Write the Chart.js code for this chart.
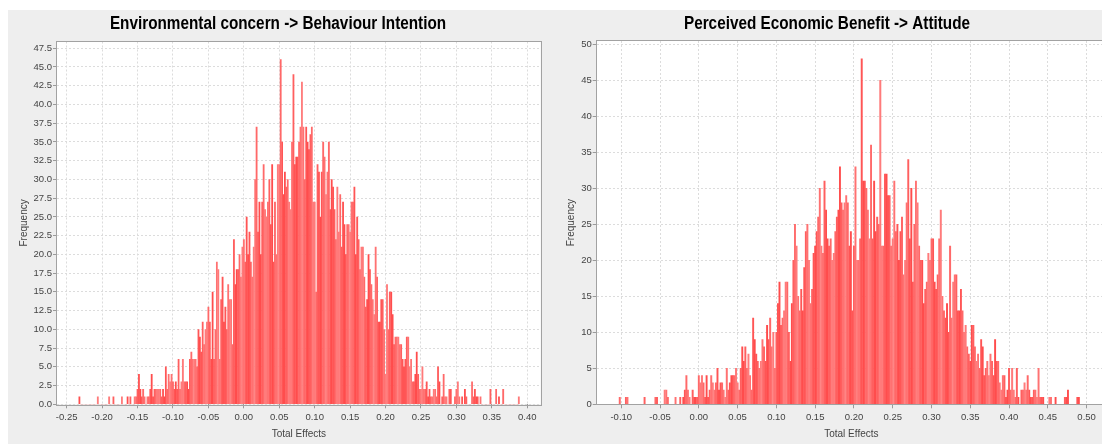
<!DOCTYPE html>
<html lang="en">
<head>
<meta charset="UTF-8">
<title>Total Effects - Bootstrap Histograms</title>
<script src="https://cdn.jsdelivr.net/npm/chart.js"></script>
<style>
  html, body { margin: 0; padding: 0; background: #fff; overflow: hidden; }
  #frame { position: absolute; left: 8px; top: 10px; width: 1120px; height: 434px; background: #eeeeee; }
  .panel { position: absolute; top: 10px; height: 433px; }
  #leftPanel { left: 8px; width: 540px; }
  #rightPanel { left: 551px; width: 557px; }
</style>
</head>
<body>
<div id="frame"></div>
<div class="panel" id="leftPanel"><canvas id="envChart"></canvas></div>
<div class="panel" id="rightPanel"><canvas id="pebChart"></canvas></div>

<script>
// histogram bins: every bin is 0.002 wide, first bin centre given per chart
const binWidth = 0.002;
const envBinStart = -0.232;
const pebBinStart = -0.102;

// Environmental concern -> Behaviour Intention, frequency per bin
const envFreq = [
  1,0,0,0,0,0,0,0,0,0,
  0,0,0,1,0,0,0,0,0,0,
  0,1,0,0,1,0,0,0,0,0,
  1,0,0,0,1,0,1,0,0,1,
  1,2,4,2,1,2,1,0,1,1,
  2,4,1,2,2,2,2,2,1,2,
  1,5,2,4,3,4,3,2,3,2,
  6,2,3,6,3,3,3,2,6,7,
  6,6,6,5,10,9,7,11,8,10,
  11,13,11,6,15,6,10,19,18,6,
  14,17,11,13,10,16,14,14,8,22,
  16,18,18,20,17,21,22,19,25,20,
  23,19,17,21,30,37,23,27,20,27,
  32,26,25,27,30,24,32,19,27,20,
  32,32,46,35,28,31,29,30,27,26,
  35,44,32,33,33,35,37,43,37,30,
  37,35,34,36,37,27,27,15,32,31,
  25,31,35,33,28,31,35,26,30,29,
  26,22,29,23,28,21,27,24,20,24,
  24,23,27,27,29,20,25,22,18,21,
  21,17,13,14,20,18,16,14,12,21,
  17,11,11,14,14,10,4,16,10,15,
  15,12,8,9,9,9,8,8,6,5,
  6,9,9,5,6,3,3,4,7,4,
  2,2,5,2,2,3,1,2,1,1,
  2,2,1,5,3,0,1,4,1,1,
  0,2,2,0,0,1,2,3,1,0,
  1,0,2,1,0,0,0,3,1,2,
  1,1,0,1,0,0,0,0,0,0,
  2,0,0,0,2,0,1,0,0,2,
  0,0,0,0,0,0,0,0,0,0,1
];

// Perceived Economic Benefit -> Attitude, frequency per bin
const pebFreq = [
  1,0,0,0,1,1,0,0,0,0,
  0,0,0,0,0,0,1,0,0,0,
  0,0,0,1,1,0,0,0,0,2,
  2,1,0,0,0,0,1,0,0,1,
  0,1,2,4,2,1,0,2,1,1,
  1,4,3,4,3,1,4,1,2,4,
  3,2,3,5,2,3,3,2,1,5,
  2,3,4,4,4,5,3,2,5,8,
  6,8,5,7,4,2,12,9,7,6,
  5,6,9,8,6,11,9,12,8,10,
  5,10,14,17,11,12,13,17,17,10,
  6,14,20,25,22,15,13,16,13,19,
  24,25,20,14,16,21,22,24,26,30,
  22,21,31,27,23,22,23,20,21,24,
  26,27,33,28,27,28,29,28,22,24,
  13,22,33,20,20,23,48,31,31,30,
  27,23,36,23,31,24,26,25,45,22,
  22,32,32,29,29,22,23,31,24,25,
  20,24,26,18,20,28,34,23,30,17,
  25,31,28,22,20,20,14,16,17,21,
  20,23,23,17,16,18,23,27,15,13,
  12,14,10,22,12,17,18,18,13,13,
  16,13,10,11,8,7,6,11,11,8,
  6,7,5,9,8,4,5,6,4,7,
  6,4,9,6,6,3,2,4,4,1,
  2,5,2,5,2,1,5,1,0,2,
  2,3,2,4,2,1,1,2,2,1,
  5,1,1,1,0,0,0,1,1,0,
  0,1,0,0,0,0,0,1,1,2,
  0,0,0,0,0,1,1
];

// axis ticks
const envXTicks = [-0.25, -0.20, -0.15, -0.10, -0.05, 0.00, 0.05, 0.10, 0.15, 0.20, 0.25, 0.30, 0.35, 0.40];
const envYTicks = [0, 2.5, 5, 7.5, 10, 12.5, 15, 17.5, 20, 22.5, 25, 27.5, 30, 32.5, 35, 37.5, 40, 42.5, 45, 47.5];
const pebXTicks = [-0.10, -0.05, 0.00, 0.05, 0.10, 0.15, 0.20, 0.25, 0.30, 0.35, 0.40, 0.45, 0.50];
const pebYTicks = [0, 5, 10, 15, 20, 25, 30, 35, 40, 45, 50];

const tickFont = { family: "'Liberation Sans', Arial, sans-serif", size: 9.5 };
const axisFont = { family: "'Liberation Sans', Arial, sans-serif", size: 10 };

// striped red fill, like the gradient painted bars
function stripeFill() {
  const c = document.createElement('canvas');
  c.width = 12; c.height = 1;
  const g = c.getContext('2d');
  const grad = g.createLinearGradient(0, 0, 12, 0);
  grad.addColorStop(0, '#ff4848');
  grad.addColorStop(0.5, '#ff7f7f');
  grad.addColorStop(1, '#ff4848');
  g.fillStyle = grad;
  g.fillRect(0, 0, 12, 1);
  return g.createPattern(c, 'repeat');
}

// white plot background and grey outline round the plot
const plotFrame = {
  id: 'plotFrame',
  beforeDraw(chart) {
    const { ctx, chartArea: a } = chart;
    ctx.save();
    ctx.fillStyle = '#ffffff';
    ctx.fillRect(a.left, a.top, a.width, a.height);
    ctx.restore();
  },
  afterDatasetsDraw(chart) {
    const { ctx, chartArea: a } = chart;
    ctx.save();
    ctx.strokeStyle = '#a2a2a2';
    ctx.lineWidth = 1;
    ctx.strokeRect(Math.round(a.left) - 0.5, Math.round(a.top) - 0.5,
                   Math.round(a.width) + 1, Math.round(a.height) + 1);
    ctx.restore();
  }
};

// bold condensed heading above the plot
const panelTitle = {
  id: 'panelTitle',
  afterDraw(chart, args, opts) {
    const ctx = chart.ctx;
    ctx.save();
    ctx.font = "bold 18px 'Liberation Sans', Arial, sans-serif";
    ctx.fillStyle = '#000';
    ctx.textAlign = 'center';
    ctx.textBaseline = 'middle';
    ctx.translate(opts.cx, 13.7);
    ctx.scale(0.85, 1);
    ctx.fillText(opts.text, 0, 0);
    ctx.restore();
  }
};

function histogram(canvasId, cfg) {
  const points = cfg.freq.map((f, i) => ({ x: cfg.binStart + i * binWidth, y: f }));
  const grid = { offset: false, color: '#dcdcdc', tickColor: '#9a9a9a', tickLength: 4 };
  const border = { display: false, dash: [2, 2] };
  return new Chart(document.getElementById(canvasId), {
    type: 'bar',
    data: {
      datasets: [{
        data: points,
        backgroundColor: stripeFill(),
        borderWidth: 0,
        inflateAmount: 0.2,
        barPercentage: 1,
        categoryPercentage: 1
      }]
    },
    options: {
      responsive: true,
      maintainAspectRatio: false,
      animation: false,
      layout: { padding: { left: 0, right: cfg.padRight, top: cfg.padTop, bottom: 0 } },
      plugins: {
        legend: { display: false },
        tooltip: { enabled: false },
        title: { display: false },
        panelTitle: { text: cfg.title, cx: cfg.titleX }
      },
      scales: {
        x: {
          type: 'linear', offset: false, min: cfg.xMin, max: cfg.xMax,
          afterBuildTicks: s => { s.ticks = cfg.xTicks.map(v => ({ value: v })); },
          afterFit: s => { s.height = 38.7; },
          ticks: { autoSkip: false, maxRotation: 0, padding: 3, color: '#444', font: tickFont,
                   callback: v => v.toFixed(2) },
          grid: grid,
          border: border,
          title: { display: true, text: 'Total Effects', color: '#444', font: axisFont,
                   padding: { top: 0, bottom: 2.8 } }
        },
        y: {
          min: 0, max: cfg.yMax,
          afterBuildTicks: s => { s.ticks = cfg.yTicks.map(v => ({ value: v })); },
          afterFit: s => { s.width = cfg.yAxisWidth; },
          ticks: { padding: 1, color: '#444', font: tickFont, callback: cfg.yLabel },
          grid: grid,
          border: border,
          title: { display: true, text: 'Frequency', color: '#444', font: axisFont,
                   padding: { top: cfg.yTitlePad, bottom: 0 } }
        }
      }
    },
    plugins: [plotFrame, panelTitle]
  });
}

histogram('envChart', {
  title: 'Environmental concern -> Behaviour Intention', titleX: 270,
  freq: envFreq, binStart: envBinStart,
  xTicks: envXTicks, yTicks: envYTicks,
  xMin: -0.2636, xMax: 0.4189, yMax: 48.4,
  yLabel: v => v.toFixed(1),
  yAxisWidth: 49, yTitlePad: 10.2, padRight: 7.3, padTop: 31.5
});

histogram('pebChart', {
  title: 'Perceived Economic Benefit -> Attitude', titleX: 276,
  freq: pebFreq, binStart: pebBinStart,
  xTicks: pebXTicks, yTicks: pebYTicks,
  xMin: -0.1317, xMax: 0.525, yMax: 50.45,
  yLabel: v => String(v),
  yAxisWidth: 45.7, yTitlePad: 14, padRight: 2, padTop: 31
});
</script>
</body>
</html>
